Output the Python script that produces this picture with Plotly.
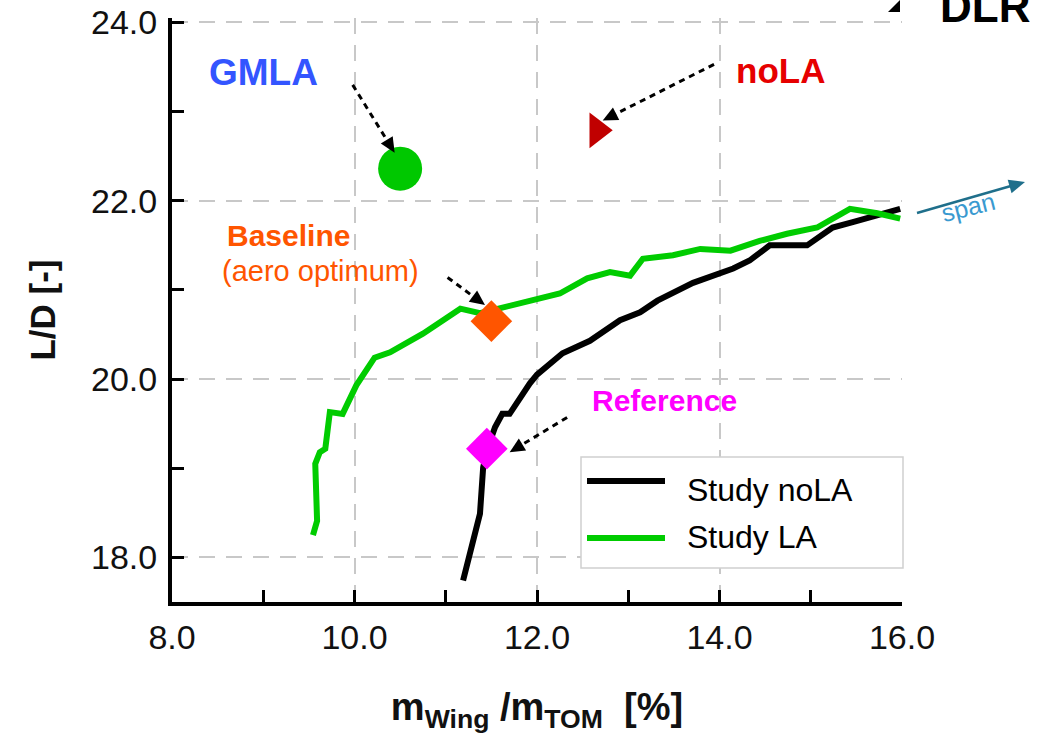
import plotly.graph_objects as go

# ---- data ----
nola_x = [11.19, 11.375, 11.41, 11.45, 11.54, 11.62, 11.70, 11.81, 11.92, 12.00, 12.28, 12.58, 12.91,
          13.13, 13.32, 13.71, 14.15, 14.33, 14.55, 14.96, 15.24, 15.46, 15.73, 15.98]
nola_y = [17.74, 18.49, 19.01, 19.20, 19.46, 19.61, 19.61, 19.79, 19.95, 20.05, 20.29, 20.43, 20.66,
          20.75, 20.88, 21.08, 21.24, 21.33, 21.50, 21.50, 21.70, 21.76, 21.83, 21.91]

la_x = [9.545, 9.59, 9.57, 9.62, 9.68, 9.73, 9.87, 10.02, 10.22, 10.39, 10.75, 11.16, 11.375, 11.74,
        12.11, 12.25, 12.55, 12.80, 13.02, 13.16, 13.49, 13.79, 14.12, 14.44, 14.74, 15.07, 15.43,
        15.73, 15.98]
la_y = [18.25, 18.41, 19.05, 19.18, 19.22, 19.63, 19.61, 19.93, 20.24, 20.30, 20.51, 20.79, 20.74, 20.83,
        20.91, 20.96, 21.13, 21.20, 21.16, 21.35, 21.39, 21.46, 21.44, 21.55, 21.63, 21.70, 21.91,
        21.86, 21.80]

point_names = ["GMLA", "noLA", "Baseline", "Reference"]
point_x = [10.50, 12.66, 11.50, 11.45]
point_y = [22.36, 22.79, 20.65, 19.22]

x_ticks = [8, 10, 12, 14, 16]
y_ticks = [18, 20, 22, 24]

FONT = "Arial, Liberation Sans, sans-serif"

fig = go.Figure()
fig.add_trace(go.Scatter(x=nola_x, y=nola_y, mode="lines", name="Study noLA",
                         line=dict(color="#000000", width=6), showlegend=False))
fig.add_trace(go.Scatter(x=la_x, y=la_y, mode="lines", name="Study LA",
                         line=dict(color="#00CC00", width=6), showlegend=False))

sym = ["circle", "triangle-right", "diamond", "diamond"]
cols = ["#00C800", "#C00000", "#FF5500", "#FF00FF"]
sizes = [44, 31, 32, 32]
for i in range(4):
    fig.add_trace(go.Scatter(x=[point_x[i]], y=[point_y[i]], mode="markers", name=point_names[i],
                             marker=dict(symbol=sym[i], color=cols[i], size=sizes[i], line=dict(width=0)),
                             showlegend=False))

pxu, pyu = 91.25, 89.2


def head_path(hx, hy, ux, uy, to_x, to_y, length=14, half=6):
    """triangle arrow head: tip at (hx,hy) [px], direction (ux,uy) unit vector in px space"""
    bx, by = hx - ux * length, hy - uy * length
    nx, ny = -uy, ux
    pts = [(hx, hy), (bx + nx * half, by + ny * half), (bx - nx * half, by - ny * half)]
    pts = [to_x(px_, py_) for px_, py_ in pts]
    return "M {} {} L {} {} L {} {} Z".format(*[v for p in pts for v in p])


# data-space conversion (pixels -> data)
def d2p(x, y):
    return 172 + (x - 8) * pxu, 557 - (y - 18) * pyu


def p2d(px, py):
    return 8 + (px - 172) / pxu, 18 + (557 - py) / pyu


def px2paper(px, py):
    return (px - 172) / 730, (602 - py) / 584


# dotted arrows: (tail_x, tail_y, head_x, head_y)
arrows = [(9.98, 23.30, 10.44, 22.54),
          (13.94, 23.53, 12.72, 22.90),
          (11.02, 21.14, 11.43, 20.83),
          (12.33, 19.57, 11.70, 19.18)]
for tx, ty, hx, hy in arrows:
    tpx, tpy = d2p(tx, ty)
    hpx, hpy = d2p(hx, hy)
    dx, dy = hpx - tpx, hpy - tpy
    n = (dx ** 2 + dy ** 2) ** 0.5
    ux, uy = dx / n, dy / n
    ex, ey = p2d(hpx - ux * 10, hpy - uy * 10)
    fig.add_shape(type="line", x0=tx, y0=ty, x1=ex, y1=ey, xref="x", yref="y",
                  line=dict(color="black", width=3, dash="6px,5px"), layer="above")
    fig.add_shape(type="path", xref="x", yref="y", path=head_path(hpx, hpy, ux, uy, p2d, None, 15, 7),
                  fillcolor="black", line=dict(width=0), layer="above")

# text labels
labels = [
    ("<b>GMLA</b>", 9.00, 23.44, "#3355FF", 37),
    ("<b>noLA</b>", 14.67, 23.46, "#E60000", 35),
    ("<b>Baseline</b>", 9.28, 21.61, "#FF5500", 30),
    ("(aero optimum)", 9.63, 21.21, "#FF5500", 29),
    ("<b>Reference</b>", 13.40, 19.76, "#FF00FF", 30),
]
for t, x, y, c, s in labels:
    fig.add_annotation(x=x, y=y, xref="x", yref="y", text=t, showarrow=False,
                       font=dict(family=FONT, size=s, color=c), xanchor="center", yanchor="middle")

# custom legend
bx0, by0 = px2paper(581, 568)
bx1, by1 = px2paper(903, 457)
fig.add_shape(type="rect", xref="paper", yref="paper", x0=bx0, y0=by0, x1=bx1, y1=by1,
              fillcolor="white", line=dict(color="#D0D0D0", width=1.5), layer="above")
legend_names = ["Study noLA", "Study LA"]
legend_cols = ["#000000", "#00CC00"]
legend_rows = [481, 538]
legend_text_rows = [490, 537]
for name, c, py, tpy in zip(legend_names, legend_cols, legend_rows, legend_text_rows):
    lx0, ly = px2paper(587, py)
    lx1, _ = px2paper(665, py)
    fig.add_shape(type="line", xref="paper", yref="paper", x0=lx0, x1=lx1, y0=ly, y1=ly,
                  line=dict(color=c, width=6), layer="above")
    tx, ty = px2paper(685, tpy)
    fig.add_annotation(x=tx, y=ty, xref="paper", yref="paper", text=name, showarrow=False,
                       xanchor="left", yanchor="middle", font=dict(family=FONT, size=32, color="black"))

# span arrow
s_tail = (917, 213)
s_head = (1025, 182)
sdx, sdy = s_head[0] - s_tail[0], s_head[1] - s_tail[1]
sn = (sdx ** 2 + sdy ** 2) ** 0.5
sux, suy = sdx / sn, sdy / sn
a0 = px2paper(*s_tail)
a1 = px2paper(s_head[0] - sux * 12, s_head[1] - suy * 12)
fig.add_shape(type="line", xref="paper", yref="paper", x0=a0[0], y0=a0[1], x1=a1[0], y1=a1[1],
              line=dict(color="#1F6F8B", width=2.5))
fig.add_shape(type="path", xref="paper", yref="paper",
              path=head_path(s_head[0], s_head[1], sux, suy, px2paper, None, 16, 7),
              fillcolor="#1F6F8B", line=dict(width=0))
sx, sy = px2paper(1000, 184)
fig.add_annotation(x=sx, y=sy, xref="paper", yref="paper", text="span", showarrow=False,
                   textangle=-14, font=dict(family=FONT, size=25, color="#3A9AD0"))

# DLR logo text
dx_, dy_ = px2paper(985, 33)
fig.add_annotation(x=dx_, y=dy_, xref="paper", yref="paper", text="<b>DLR</b>", showarrow=False,
                   xanchor="center", yanchor="bottom", font=dict(family=FONT, size=44, color="black"))
p1 = px2paper(888, 12); p2 = px2paper(900, 0); p3 = px2paper(900, 12)
fig.add_shape(type="path", xref="paper", yref="paper",
              path=f"M {p1[0]},{p1[1]} L {p2[0]},{p2[1]} L {p3[0]},{p3[1]} Z",
              fillcolor="black", line=dict(width=0))

grid = dict(showgrid=True, gridcolor="#C8C8C8", gridwidth=2, griddash="16px,11px", zeroline=False)
fig.update_xaxes(range=[8, 16], tickvals=x_ticks, ticktext=[f"{v:.1f}" for v in x_ticks],
                 ticks="inside", ticklen=12, tickwidth=2.5, tickcolor="black",
                 minor=dict(dtick=1, tick0=8, ticks="inside", ticklen=12, tickwidth=2.5,
                            tickcolor="black", showgrid=False),
                 showline=True, linecolor="black", linewidth=4, mirror=False,
                 tickfont=dict(family=FONT, size=34, color="#111111"), ticklabelstandoff=2,
                 title=dict(text="<b>m<sub>Wing</sub> /m<sub>TOM</sub>  [%]</b>",
                            font=dict(family=FONT, size=38, color="#111111"), standoff=40),
                 automargin=False, **grid)
fig.update_yaxes(range=[17.5, 24.05], tickvals=y_ticks, ticktext=[f"{v:.1f}" for v in y_ticks],
                 ticks="inside", ticklen=12, tickwidth=2.5, tickcolor="black",
                 minor=dict(dtick=1, tick0=18, ticks="inside", ticklen=12, tickwidth=2.5,
                            tickcolor="black", showgrid=False),
                 showline=True, linecolor="black", linewidth=4, mirror=False,
                 tickfont=dict(family=FONT, size=34, color="#111111"), ticklabelstandoff=4,
                 title=dict(text="<b>L/D [-]</b>", font=dict(family=FONT, size=35, color="#111111"),
                            standoff=26),
                 automargin=False, **grid)

fig.update_layout(width=1038, height=738, margin=dict(l=172, r=136, t=18, b=136),
                  plot_bgcolor="white", paper_bgcolor="white", showlegend=False)

fig.write_html("out.html")
